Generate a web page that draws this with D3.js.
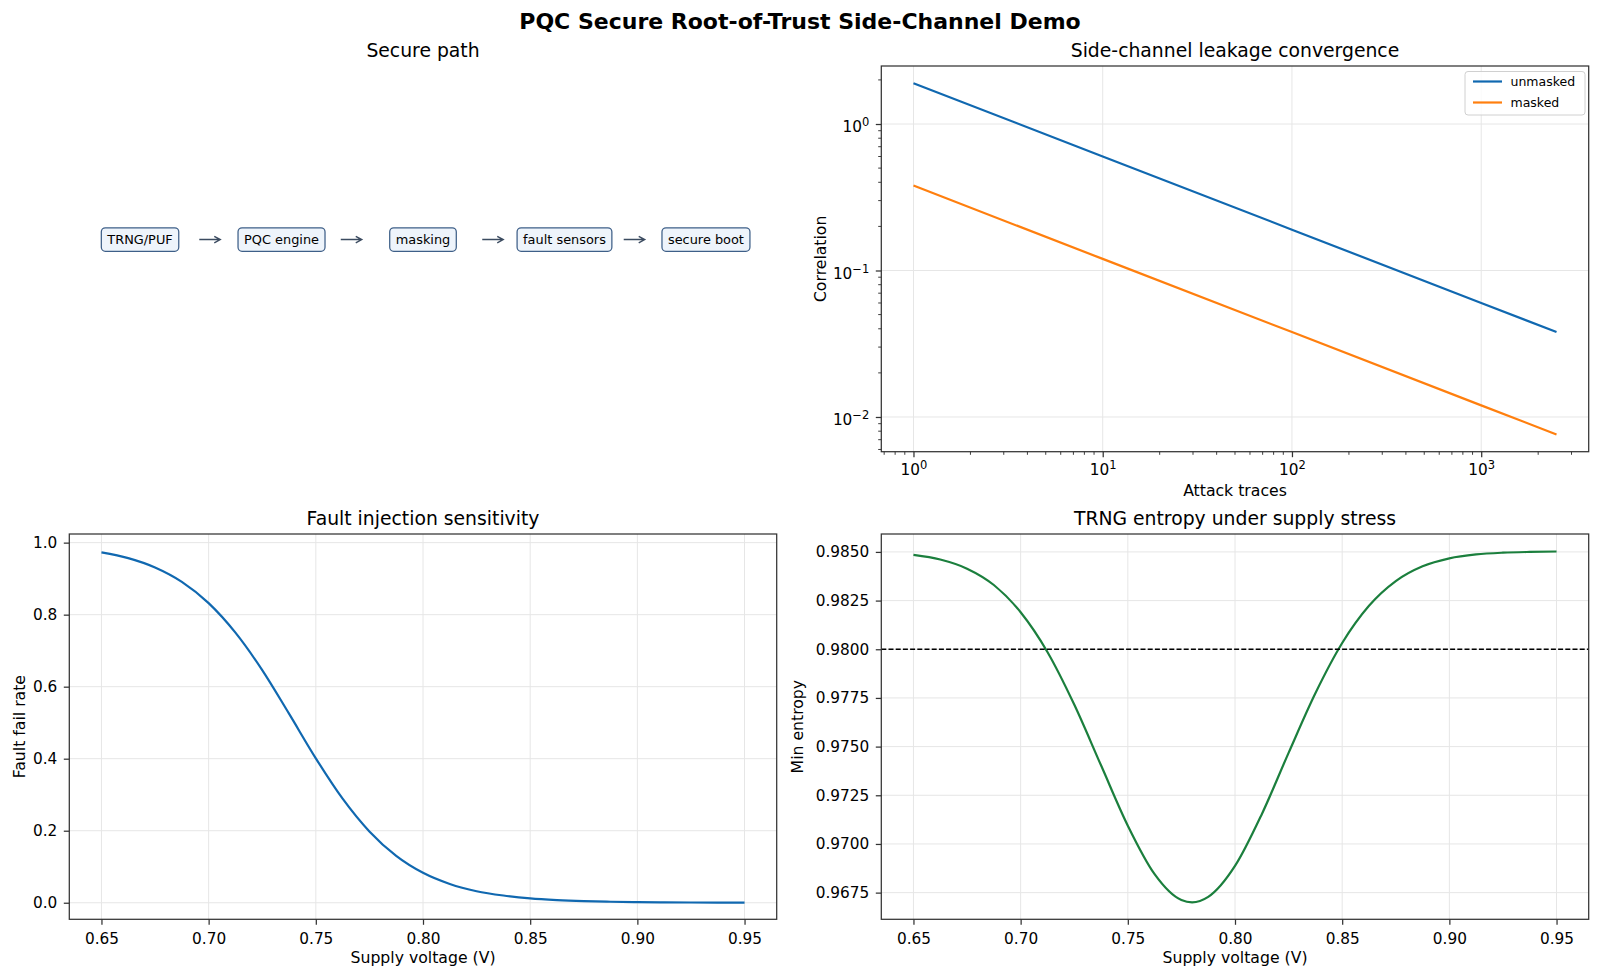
<!DOCTYPE html>
<html lang="en">
<head>
<meta charset="utf-8">
<title>PQC Secure Root-of-Trust Side-Channel Demo</title>
<script src="https://cdn.jsdelivr.net/npm/d3@7"></script>
<style>
  body { margin: 0; background: #fff; }
  svg text { font-family: "DejaVu Sans", sans-serif; fill: #000; }
</style>
</head>
<body>
<script>
var w = 1600;
var h = 979;

// secure path blocks
var steps = ["TRNG/PUF", "PQC engine", "masking", "fault sensors", "secure boot"];

// side-channel leakage (log-log, straight lines)
var traces = [1, 10, 100, 1000, 2500];
var unmasked = [1.90, 0.60, 0.19, 0.060, 0.038];
var masked = [0.38, 0.12, 0.038, 0.012, 0.0076];

// fault injection
var faultVolt = [0.65, 0.6625, 0.675, 0.6875, 0.70, 0.7125, 0.725, 0.7375, 0.75, 0.7625, 0.775, 0.7875,
  0.80, 0.8125, 0.825, 0.8375, 0.85, 0.8625, 0.875, 0.8875, 0.90, 0.9125, 0.925, 0.9375, 0.95];
var faultRate = [0.973, 0.957, 0.931, 0.891, 0.832, 0.750, 0.646, 0.525, 0.401, 0.289, 0.198, 0.130,
  0.083, 0.052, 0.032, 0.020, 0.012, 0.0074, 0.0045, 0.0027, 0.0017, 0.0010, 0.0006, 0.0004, 0.0002];

// TRNG entropy
var entVolt = [0.65, 0.6625, 0.675, 0.6875, 0.70, 0.7125, 0.725, 0.7375, 0.75, 0.7625, 0.775, 0.78, 0.7875,
  0.80, 0.8125, 0.825, 0.8375, 0.85, 0.8625, 0.875, 0.8875, 0.90, 0.9125, 0.925, 0.9375, 0.95];
var entropy = [0.98485, 0.98461, 0.98414, 0.98330, 0.98190, 0.97986, 0.97716, 0.97404, 0.97094, 0.96845, 0.96712, 0.96700, 0.96728,
  0.96887, 0.97153, 0.97468, 0.97774, 0.98032, 0.98223, 0.98350, 0.98426, 0.98467, 0.98487, 0.98496, 0.98500, 0.98502];
var entropyLimit = 0.98;

// ticks
var voltTicks = [0.65, 0.70, 0.75, 0.80, 0.85, 0.90, 0.95];
var faultTicks = [0, 0.2, 0.4, 0.6, 0.8, 1.0];
var entTicks = [0.9675, 0.97, 0.9725, 0.975, 0.9775, 0.98, 0.9825, 0.985];
var traceTicks = [1, 10, 100, 1000];
var traceMinor = [0.7, 0.8, 0.9, 2, 3, 4, 5, 6, 7, 8, 9, 20, 30, 40, 50, 60, 70, 80, 90, 200, 300, 400, 500, 600, 700, 800, 900, 2000, 3000];
var corrTicks = [0.01, 0.1, 1];
var corrMinor = [0.006, 0.007, 0.008, 0.009, 0.02, 0.03, 0.04, 0.05, 0.06, 0.07, 0.08, 0.09, 0.2, 0.3, 0.4, 0.5, 0.6, 0.7, 0.8, 0.9, 2];

var blue = "#1068b0";
var orange = "#ff7f0e";
var green = "#1b7f3d";
var gridColor = "#e6e6e6";

var L1 = 69.3, R1 = 776.7, L2 = 881.3, R2 = 1588.7;
var T1 = 66, B1 = 451.7, T2 = 534, B2 = 919.3;

var svg = d3.select("body")
  .append("svg")
  .attr("width", w)
  .attr("height", h);

svg.append("rect").attr("width", w).attr("height", h).attr("fill", "#fff");

svg.append("text")
  .attr("x", w / 2)
  .attr("y", 29)
  .attr("text-anchor", "middle")
  .style("font-size", "22px")
  .style("font-weight", "bold")
  .text("PQC Secure Root-of-Trust Side-Channel Demo");

function title(x0, x1, top, txt) {
  svg.append("text")
    .attr("x", (x0 + x1) / 2)
    .attr("y", top - 9.4)
    .attr("text-anchor", "middle")
    .style("font-size", "18.8px")
    .text(txt);
}

function frame(x0, x1, y0, y1) {
  svg.append("rect")
    .attr("x", x0).attr("y", y0)
    .attr("width", x1 - x0).attr("height", y1 - y0)
    .attr("fill", "none")
    .attr("stroke", "#333")
    .attr("stroke-width", 1.25);
}

function styleAxis(g) {
  g.select(".domain").remove();
  g.selectAll(".tick line").attr("stroke", "#333").attr("stroke-width", 1.25);
  g.selectAll(".tick text").style("font-size", "15.3px").attr("fill", "#000");
}

function minorTicks(g, vals, scale, vertical) {
  g.selectAll("line.minor")
    .data(vals)
    .enter()
    .append("line")
    .attr("class", "minor")
    .attr("x1", function(d) { return vertical ? 0 : scale(d); })
    .attr("x2", function(d) { return vertical ? -3.1 : scale(d); })
    .attr("y1", function(d) { return vertical ? scale(d) : 0; })
    .attr("y2", function(d) { return vertical ? scale(d) : 3.1; })
    .attr("stroke", "#333")
    .attr("stroke-width", 0.95);
}

function grid(xs, xTicks, ys, yTicks, x0, x1, y0, y1) {
  var g = svg.append("g");
  g.selectAll("line.gx").data(xTicks).enter().append("line")
    .attr("x1", function(d) { return xs(d); })
    .attr("x2", function(d) { return xs(d); })
    .attr("y1", y0).attr("y2", y1)
    .attr("stroke", gridColor).attr("stroke-width", 1);
  g.selectAll("line.gy").data(yTicks).enter().append("line")
    .attr("y1", function(d) { return ys(d); })
    .attr("y2", function(d) { return ys(d); })
    .attr("x1", x0).attr("x2", x1)
    .attr("stroke", gridColor).attr("stroke-width", 1);
}

function xLabel(x0, x1, y, txt) {
  svg.append("text")
    .attr("x", (x0 + x1) / 2)
    .attr("y", y)
    .attr("text-anchor", "middle")
    .style("font-size", "15.7px")
    .text(txt);
}

function yLabel(x, y0, y1, txt) {
  svg.append("text")
    .attr("transform", "translate(" + x + "," + ((y0 + y1) / 2) + ") rotate(-90)")
    .attr("text-anchor", "middle")
    .style("font-size", "15.7px")
    .text(txt);
}

// ---- Secure path ----
title(L1, R1, T1, "Secure path");

var stepX = d3.scalePoint().domain(steps).range([L1, R1]).padding(0.5);
var pathY = d3.scaleLinear().domain([0, 1]).range([B1, T1]);
var boxY = pathY(0.55);

var boxes = svg.append("g");
steps.forEach(function(s, i) {
  var t = boxes.append("text")
    .attr("x", stepX(s))
    .attr("y", boxY)
    .attr("dy", "0.36em")
    .attr("text-anchor", "middle")
    .style("font-size", "12.9px")
    .text(s);
  var tw = t.node().getComputedTextLength();
  boxes.insert("rect", "text")
    .attr("x", stepX(s) - tw / 2 - 6)
    .attr("y", boxY - 11.7)
    .attr("width", tw + 12)
    .attr("height", 23.4)
    .attr("rx", 4)
    .attr("fill", "#eef4fb")
    .attr("stroke", "#3e5f88")
    .attr("stroke-width", 1.25);
  if (i < steps.length - 1) {
    var m = (stepX(s) + stepX(steps[i + 1])) / 2 - 1;
    boxes.append("path")
      .attr("d", "M" + (m - 10.5) + "," + boxY + "H" + (m + 10.5) +
        "M" + (m + 4.5) + "," + (boxY - 3.3) + "L" + (m + 10.5) + "," + boxY + "L" + (m + 4.5) + "," + (boxY + 3.3))
      .attr("fill", "none")
      .attr("stroke", "#3b4b60")
      .attr("stroke-width", 1.4);
  }
});

// ---- Side-channel leakage ----
title(L2, R2, T1, "Side-channel leakage convergence");

var xLog = d3.scaleLog().domain([Math.pow(10, -0.17), Math.pow(10, 3.568)]).range([L2, R2]);
var yLog = d3.scaleLog().domain([Math.pow(10, -2.237), Math.pow(10, 0.396)]).range([B1, T1]);

grid(xLog, traceTicks, yLog, corrTicks, L2, R2, T1, B1);

var logLine = function(vals) {
  return d3.line()
    .x(function(d, i) { return xLog(traces[i]); })
    .y(function(d) { return yLog(d); })(vals);
};
svg.append("path").attr("d", logLine(unmasked))
  .attr("fill", "none").attr("stroke", blue).attr("stroke-width", 2.2);
svg.append("path").attr("d", logLine(masked))
  .attr("fill", "none").attr("stroke", orange).attr("stroke-width", 2.2);

frame(L2, R2, T1, B1);

function supLabel(sel) {
  sel.selectAll(".tick text").each(function(d) {
    var t = d3.select(this);
    var e = Math.round(Math.log10(d));
    t.text("");
    t.append("tspan").text("10");
    t.append("tspan").attr("dy", "-0.5em").style("font-size", "11.5px")
      .text(e < 0 ? "\u2212" + (-e) : String(e));
  });
}

var gxLog = svg.append("g")
  .attr("transform", "translate(0," + B1 + ")")
  .call(d3.axisBottom(xLog).tickValues(traceTicks).tickSize(5.5).tickPadding(7));
styleAxis(gxLog);
supLabel(gxLog);
minorTicks(gxLog, traceMinor, xLog, false);

var gyLog = svg.append("g")
  .attr("transform", "translate(" + L2 + ",0)")
  .call(d3.axisLeft(yLog).tickValues(corrTicks).tickSize(5.5).tickPadding(6.5));
styleAxis(gyLog);
supLabel(gyLog);
gyLog.selectAll(".tick text").attr("dy", "0.5em");
minorTicks(gyLog, corrMinor, yLog, true);

xLabel(L2, R2, 496, "Attack traces");
yLabel(826, T1, B1, "Correlation");

// legend
var lg = svg.append("g");
lg.append("rect")
  .attr("x", 1465).attr("y", 71.5)
  .attr("width", 120).attr("height", 43.5)
  .attr("rx", 3)
  .attr("fill", "#fff").attr("fill-opacity", 0.8)
  .attr("stroke", "#d0d0d0").attr("stroke-width", 1);
[["unmasked", blue], ["masked", orange]].forEach(function(d, i) {
  var yy = 81.5 + i * 21;
  lg.append("line").attr("x1", 1473).attr("x2", 1502).attr("y1", yy).attr("y2", yy)
    .attr("stroke", d[1]).attr("stroke-width", 2.2);
  lg.append("text").attr("x", 1510.5).attr("y", yy).attr("dy", "0.36em")
    .style("font-size", "12.5px").text(d[0]);
});

// ---- Fault injection ----
title(L1, R1, T2, "Fault injection sensitivity");

var xF = d3.scaleLinear().domain([0.635, 0.965]).range([L1, R1]);
var yF = d3.scaleLinear().domain([-0.046, 1.024]).range([B2, T2]);

grid(xF, voltTicks, yF, faultTicks, L1, R1, T2, B2);

svg.append("path")
  .attr("d", d3.line()
    .x(function(d, i) { return xF(faultVolt[i]); })
    .y(function(d) { return yF(d); })
    .curve(d3.curveMonotoneX)(faultRate))
  .attr("fill", "none").attr("stroke", blue).attr("stroke-width", 2.2);

frame(L1, R1, T2, B2);

var gxF = svg.append("g")
  .attr("transform", "translate(0," + B2 + ")")
  .call(d3.axisBottom(xF).tickValues(voltTicks).tickSize(5.5).tickPadding(8.3).tickFormat(d3.format(".2f")));
styleAxis(gxF);
var gyF = svg.append("g")
  .attr("transform", "translate(" + L1 + ",0)")
  .call(d3.axisLeft(yF).tickValues(faultTicks).tickSize(5.5).tickPadding(6.5).tickFormat(d3.format(".1f")));
styleAxis(gyF);

xLabel(L1, R1, 963, "Supply voltage (V)");
yLabel(25, T2, B2, "Fault fail rate");

// ---- TRNG entropy ----
title(L2, R2, T2, "TRNG entropy under supply stress");

var xE = d3.scaleLinear().domain([0.635, 0.965]).range([L2, R2]);
var yE = d3.scaleLinear().domain([0.96613, 0.98592]).range([B2, T2]);

grid(xE, voltTicks, yE, entTicks, L2, R2, T2, B2);

svg.append("path")
  .attr("d", d3.line()
    .x(function(d, i) { return xE(entVolt[i]); })
    .y(function(d) { return yE(d); })
    .curve(d3.curveMonotoneX)(entropy))
  .attr("fill", "none").attr("stroke", green).attr("stroke-width", 2.2);

svg.append("line")
  .attr("x1", L2).attr("x2", R2)
  .attr("y1", yE(entropyLimit)).attr("y2", yE(entropyLimit))
  .attr("stroke", "#000").attr("stroke-width", 1.3)
  .attr("stroke-dasharray", "5,2.2");

frame(L2, R2, T2, B2);

var gxE = svg.append("g")
  .attr("transform", "translate(0," + B2 + ")")
  .call(d3.axisBottom(xE).tickValues(voltTicks).tickSize(5.5).tickPadding(8.3).tickFormat(d3.format(".2f")));
styleAxis(gxE);
var gyE = svg.append("g")
  .attr("transform", "translate(" + L2 + ",0)")
  .call(d3.axisLeft(yE).tickValues(entTicks).tickSize(5.5).tickPadding(6.5).tickFormat(d3.format(".4f")));
styleAxis(gyE);

xLabel(L2, R2, 963, "Supply voltage (V)");
yLabel(803, T2, B2, "Min entropy");
</script>
</body>
</html>
